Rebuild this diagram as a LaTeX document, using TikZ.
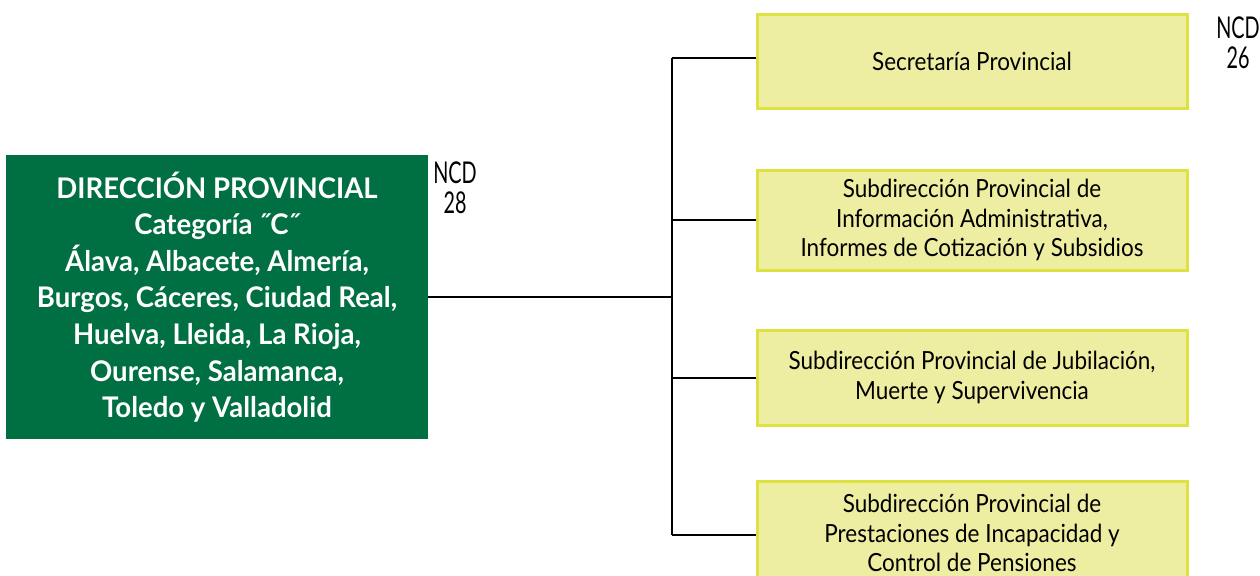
\documentclass[tikz,border=0pt]{standalone}
\usepackage{fontspec}
\setmainfont[FakeStretch=0.9]{Lato}
\newfontfamily\ncdfont[FakeStretch=0.66]{Lato}
\usetikzlibrary{positioning}
\definecolor{dirgreen}{RGB}{0,112,67}
\definecolor{unitfill}{RGB}{238,238,162}
\definecolor{unitline}{RGB}{222,226,64}

\tikzset{
  dirbox/.style={fill=dirgreen, text=white, align=center, minimum width=211pt,
    minimum height=142pt, inner sep=0pt,
    font=\bfseries\fontsize{14.2}{18.3}\selectfont\addfontfeature{FakeStretch=0.97}},
  unitbox/.style={fill=unitfill, draw=unitline, line width=1.5pt, align=center,
    minimum width=215pt, inner sep=0pt, font=\fontsize{12.5}{14.75}\selectfont},
  ncd/.style={align=center, inner sep=0pt, font=\ncdfont\fontsize{15}{15}\selectfont},
  link/.style={line width=1pt, black}
}

\begin{document}
\begin{tikzpicture}[x=0.5pt, y=-0.5pt]
  \useasboundingbox (0,0) rectangle (1260,575);
  \clip (0,0) rectangle (1260,575);

  \coordinate (top) at (672,58);
  \coordinate (bot) at (672,535);

  \node[dirbox] (dir) at (217,297) {DIRECCIÓN PROVINCIAL\\Categoría ˝C˝\\Álava, Albacete, Almería,\\Burgos, Cáceres, Ciudad Real,\\Huelva, Lleida, La Rioja,\\Ourense, Salamanca,\\Toledo y Valladolid};
  \node[ncd] (ncd28) at (455,188) {NCD\\28};

  \node[unitbox, minimum height=47pt] (sec) at (972,61) {Secretaría Provincial};
  \node[unitbox, minimum height=50pt] (info) at (972,220) {Subdirección Provincial de\\Información Administrativa,\\Informes de Cotización y Subsidios};
  \node[unitbox, minimum height=47.5pt] (jub) at (972,377.5) {Subdirección Provincial de Jubilación,\\Muerte y Supervivencia};
  \node[unitbox, minimum height=52pt] (inc) at (972,533) {Subdirección Provincial de\\Prestaciones de Incapacidad y\\Control de Pensiones};
  \node[ncd] (ncd26) at (1238,43) {NCD\\26};

  \draw[link] (dir.east) -- (dir.east -| top);
  \draw[link] (top) -- (bot);
  \draw[link] (top) -- (top -| sec.west);
  \draw[link] (info.west -| top) -- (info.west);
  \draw[link] (jub.west -| top) -- (jub.west);
  \draw[link] (bot) -- (bot -| inc.west);
\end{tikzpicture}
\end{document}
